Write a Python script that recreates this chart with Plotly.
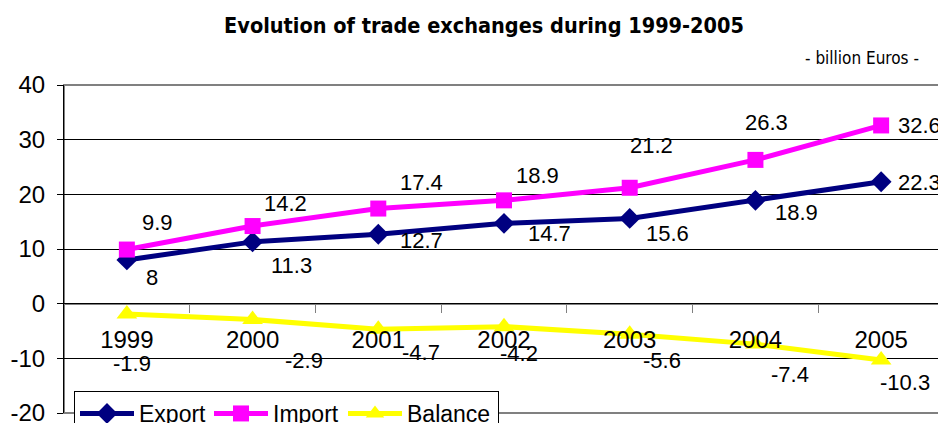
import plotly.graph_objects as go

# ---- data ----
years = ["1999", "2000", "2001", "2002", "2003", "2004", "2005"]
export_vals = [8, 11.3, 12.7, 14.7, 15.6, 18.9, 22.3]
import_vals = [9.9, 14.2, 17.4, 18.9, 21.2, 26.3, 32.6]
balance_vals = [-1.9, -2.9, -4.7, -4.2, -5.6, -7.4, -10.3]
y_ticks = [-20, -10, 0, 10, 20, 30, 40]
y_tick_text = ["-20", "-10", "0", "10", "20", "30", "40"]

# ---- label offsets (px, dx right, dy down) ----
export_off = [(25, 18), (39, 24), (43, 6), (45, 10), (38, 15), (41, 12), (38, 1)]
import_off = [(31, -27), (33, -23), (43, -26), (33, -25), (22, -42), (11, -37), (38, 0)]
balance_off = [(5, 49), (51, 41), (43, 23), (15, 27), (32, 26), (35, 30), (24, 23)]

FONT = "Liberation Sans, Arial, sans-serif"
NARROW = "Liberation Sans Narrow, Arial Narrow, DejaVu Sans Condensed, sans-serif"

# the page body adds an 8px offset; layout is expressed relative to it
OFF = 8
W, H = 946 - OFF, 423 - OFF
PLOT_L, PLOT_R, PLOT_T, PLOT_B = 64, 944, 85, 413

fig = go.Figure()
series = [
    ("Export", export_vals, "#000080", "diamond", 16, 65),
    ("Import", import_vals, "#FF00FF", "square", 16, 65),
    ("Balance", balance_vals, "#FFFF00", "triangle-up", 18, 86),
]
for name, vals, col, sym, sz, lw in series:
    fig.add_trace(go.Scatter(
        x=years, y=vals, name=name, mode="lines+markers",
        line=dict(color=col, width=5),
        marker=dict(symbol=sym, size=sz, color=col, line=dict(width=0)),
        cliponaxis=False, legendwidth=lw,
    ))

annotations = []
for vals, offs in [(export_vals, export_off), (import_vals, import_off), (balance_vals, balance_off)]:
    for i, (v, (dx, dy)) in enumerate(zip(vals, offs)):
        annotations.append(dict(
            x=i, y=v, xref="x", yref="y", text=f"{v:g}", showarrow=False,
            xshift=dx, yshift=-dy, xanchor="center", yanchor="middle",
            font=dict(family=FONT, size=22, color="black"),
        ))

plot_w = PLOT_R - PLOT_L
plot_h = PLOT_B - PLOT_T
annotations.append(dict(
    x=(921 - PLOT_L) / plot_w, y=(PLOT_B - 58) / plot_h, xref="paper", yref="paper",
    text="- billion Euros -",
    showarrow=False, xanchor="right", yanchor="middle",
    font=dict(family=NARROW, size=17, color="black"),
))

zero_pos = (0 - (-20)) / (40 - (-20))

fig.update_layout(
    width=W, height=H,
    margin=dict(l=PLOT_L - OFF, r=W - (PLOT_R - OFF), t=PLOT_T - OFF, b=H - (PLOT_B - OFF),
                autoexpand=False),
    paper_bgcolor="white", plot_bgcolor="white",
    title=dict(
        text="<b>Evolution of trade exchanges during 1999-2005</b>",
        x=(484 - OFF) / W, xref="container", xanchor="center",
        y=1 - (25 - OFF) / H, yref="container", yanchor="middle",
        font=dict(family=NARROW, size=21.5, color="black"),
    ),
    xaxis=dict(
        type="category", range=[-0.5, 6.5], anchor="free", position=zero_pos,
        showline=True, linecolor="#808080", linewidth=1,
        ticks="outside", ticklen=8, tickcolor="#808080", tickson="boundaries",
        ticklabelstandoff=15, showgrid=False, zeroline=False, automargin=False,
        ticklabeloverflow="allow",
        tickfont=dict(family=FONT, size=24, color="black"),
    ),
    yaxis=dict(
        range=[-20, 40], tickvals=y_ticks, ticktext=y_tick_text,
        showgrid=True, gridcolor="black", gridwidth=1,
        zeroline=False, showline=True, linecolor="black", linewidth=1,
        ticks="outside", ticklen=6, tickcolor="black", automargin=False,
        ticklabelstandoff=7, ticklabeloverflow="allow",
        tickfont=dict(family=FONT, size=24, color="black"),
    ),
    legend=dict(
        orientation="h", xref="container", yref="container",
        x=(74 - OFF) / W, y=1 - (391 - OFF) / H, xanchor="left", yanchor="top",
        bordercolor="black", borderwidth=1, bgcolor="white",
        font=dict(family=FONT, size=23, color="black"),
        itemwidth=54, tracegroupgap=0,
    ),
    annotations=annotations,
    shapes=[dict(type="rect", xref="paper", yref="paper", x0=0, x1=1, y0=0, y1=1,
                 line=dict(color="#808080", width=2), layer="below")],
)

fig.write_html("out.html")
